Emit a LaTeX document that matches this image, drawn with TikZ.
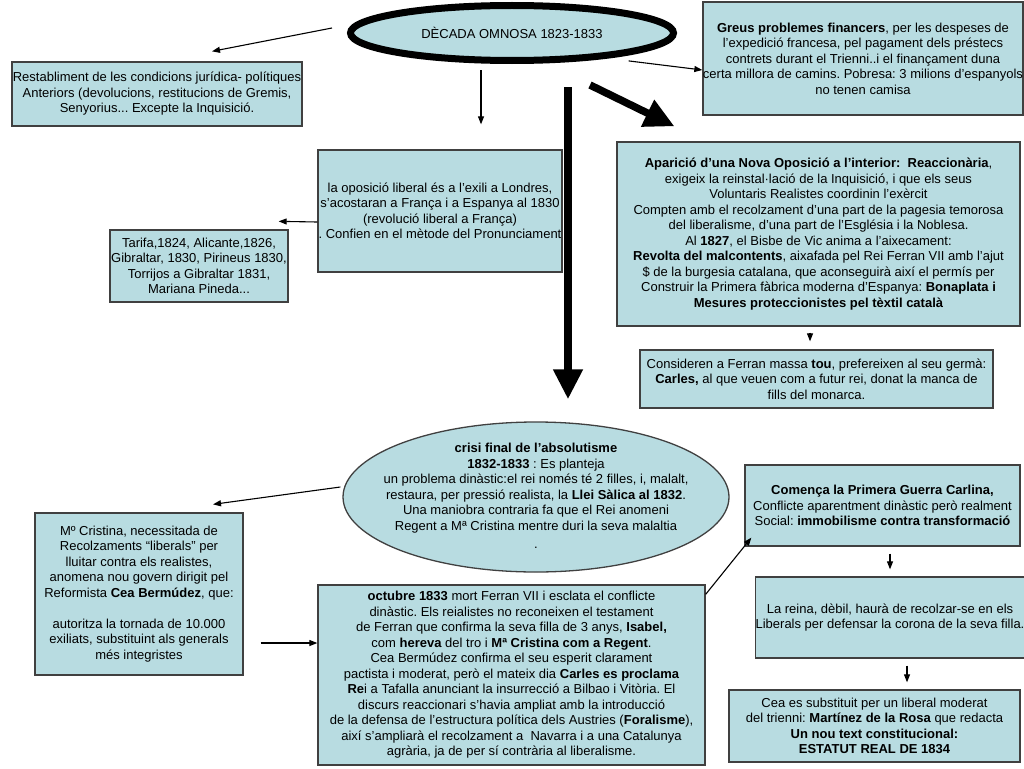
\documentclass[tikz,border=0pt]{standalone}
\usepackage{fontspec}
\setmainfont{Liberation Sans}
\usetikzlibrary{shapes.geometric,arrows.meta}
\definecolor{panelblue}{RGB}{184,220,225}
\frenchspacing

\begin{document}
\begin{tikzpicture}[x=1pt,y=-1pt,
    box/.style={draw=black!75, line width=1.3pt, fill=panelblue, align=center,
        inner sep=0pt, font=\fontsize{13}{15.5}\selectfont},
    oval/.style={ellipse, fill=panelblue, inner sep=0pt},
    txt/.style={align=center, inner sep=0pt, font=\fontsize{13}{15.5}\selectfont},
    link/.style={-{Triangle[length=8pt,width=6pt]}, line width=1.1pt},
    bigarrow/.style={-{Triangle[length=30pt,width=28pt]}, line width=7.5pt}]
    \useasboundingbox (0,0) rectangle (1024,768);

    % title
    \node[oval, draw=black, line width=7pt, minimum width=323pt, minimum height=55pt] (decada) at (512,33) {};
    \node[txt] (decadatext) at (decada.center) {DÈCADA OMNOSA 1823-1833};

    % upper row
    \node[box, minimum width=314pt, minimum height=113pt] (greus) at (863,58.5)
        {\textbf{Greus problemes financers}, per les despeses de\\
         l’expedició francesa, pel pagament dels préstecs\\
         contrets durant el Trienni..i el finançament duna\\
         certa millora de camins. Pobresa: 3 milions d’espanyols\\
         no tenen camisa};
    \node[box, minimum width=290pt, minimum height=64pt] (restab) at (157,94)
        {Restabliment de les condicions jurídica- polítiques\\
         Anteriors (devolucions, restitucions de Gremis,\\
         Senyorius... Excepte la Inquisició.};
    \node[box, minimum width=244pt, minimum height=122pt] (oposicio) at (440,211)
        {la oposició liberal és a l’exili a Londres,\\
         s’acostaran a França i a Espanya al 1830\\
         (revolució liberal a França)\\
         . Confien en el mètode del Pronunciament};
    \node[box, minimum width=178pt, minimum height=72pt] (tarifa) at (199,266)
        {Tarifa,1824, Alicante,1826,\\
         Gibraltar, 1830, Pirineus 1830,\\
         Torrijos a Gibraltar 1831,\\
         Mariana Pineda...};
    \node[box, minimum width=403pt, minimum height=184pt] (aparicio) at (818.5,234)
        {\textbf{Aparició d’una Nova Oposició a l'interior:\ \ Reaccionària},\\
         exigeix la reinstal·lació de la Inquisició, i que els seus\\
         Voluntaris Realistes coordinin l'exèrcit\\
         Compten amb el recolzament d’una part de la pagesia temorosa\\
         del liberalisme, d’una part de l’Església i la Noblesa.\\
         Al \textbf{1827}, el Bisbe de Vic anima a l’aixecament:\\
         \textbf{Revolta del malcontents}, aixafada pel Rei Ferran VII amb l’ajut\\
         \$ de la burgesia catalana, que aconseguirà així el permís per\\
         Construir la Primera fàbrica moderna d’Espanya: \textbf{Bonaplata i}\\
         \textbf{Mesures proteccionistes pel tèxtil català}};
    \node[box, minimum width=353pt, minimum height=58pt] (consideren) at (816.5,379)
        {Consideren a Ferran massa \textbf{tou}, prefereixen al seu germà:\\
         \textbf{Carles,} al que veuen com a futur rei, donat la manca de\\
         fills del monarca.};

    % crisis
    \node[oval, draw=black!75, line width=1.3pt, minimum width=386pt, minimum height=150pt] (crisi) at (536,497) {};
    \node[txt] (crisitext) at (536,496)
        {\textbf{crisi final de l’absolutisme}\\
         \textbf{1832-1833} : Es planteja\\
         un problema dinàstic:el rei només té 2 filles, i, malalt,\\
         restaura, per pressió realista, la \textbf{Llei Sàlica al 1832}.\\
         Una maniobra contraria fa que el Rei anomeni\\
         Regent a Mª Cristina mentre duri la seva malaltia\\[3pt]
         .};

    % lower row
    \node[box, minimum width=208pt, minimum height=162pt] (cristina) at (139,594)
        {Mº Cristina, necessitada de\\
         Recolzaments “liberals” per\\
         lluitar contra els realistes,\\
         anomena nou govern dirigit pel\\
         Reformista \textbf{Cea Bermúdez}, que:\\[15.5pt]
         autoritza la tornada de 10.000\\
         exiliats, substituint als generals\\
         més integristes};
    \node[box, minimum width=387pt, minimum height=180pt] (octubre) at (511.5,675)
        {\textbf{octubre 1833} mort Ferran VII i esclata el conflicte\\
         dinàstic. Els reialistes no reconeixen el testament\\
         de Ferran que confirma la seva filla de 3 anys, \textbf{Isabel,}\\
         com \textbf{hereva} del tro i \textbf{Mª Cristina com a Regent}.\\
         Cea Bermúdez confirma el seu esperit clarament\\
         pactista i moderat, però el mateix dia \textbf{Carles es proclama}\\
         \textbf{Re}i a Tafalla anunciant la insurrecció a Bilbao i Vitòria. El\\
         discurs reaccionari s'havia ampliat amb la introducció\\
         de la defensa de l’estructura política dels Austries (\textbf{Foralisme}),\\
         així s’ampliarà el recolzament a\ \ Navarra i a una Catalunya\\
         agrària, ja de per sí contrària al liberalisme.};
    \node[box, minimum width=275pt, minimum height=81pt] (comenca) at (882.5,505.5)
        {\textbf{Comença la Primera Guerra Carlina,}\\
         Conflicte aparentment dinàstic però realment\\
         Social: \textbf{immobilisme contra transformació}};
    \node[box, minimum width=264pt, minimum height=81pt] (reina) at (890,617.5)
        {La reina, dèbil, haurà de recolzar-se en els\\
         Liberals per defensar la corona de la seva filla.};
    \node[box, minimum width=291pt, minimum height=72pt] (cea) at (874.5,726)
        {Cea es substituit per un liberal moderat\\
         del trienni: \textbf{Martínez de la Rosa} que redacta\\
         \textbf{Un nou text constitucional:}\\
         \textbf{ESTATUT REAL DE 1834}};

    % thick arrows
    \coordinate (trunk) at (568,87);
    \coordinate (branch) at (590,85);
    \draw[bigarrow] (trunk) -- ([xshift=32pt,yshift=22pt]crisi.north);
    \draw[bigarrow] (branch) -- ([xshift=-144pt,yshift=15pt]aparicio.north);

    % thin arrows
    \draw[link] ([xshift=-15pt,yshift=5pt]decada.west) -- ([xshift=55pt,yshift=10pt]restab.north);
    \draw[link] ([xshift=-31pt,yshift=-6pt]decada.south) -- ([xshift=41pt,yshift=25pt]oposicio.north);
    \draw[link] ([yshift=-6pt]decada.south east) -- ([yshift=-11.5pt]greus.west);
    \draw[link] ([yshift=-11pt]oposicio.west) -- ([xshift=-10pt,yshift=8pt]tarifa.north east);
    \draw[link] ([xshift=-8.5pt,yshift=-6pt]aparicio.south) -- ([xshift=-6.5pt,yshift=8pt]consideren.north);
    \draw[link] ([xshift=-2pt,yshift=10pt]crisi.west) -- ([xshift=74pt,yshift=8pt]cristina.north);
    \draw[link] ([xshift=17pt,yshift=-49pt]cristina.east) -- ([yshift=32pt]octubre.west);
    \draw[link] ([yshift=-10pt]octubre.north east) -- ([xshift=7pt,yshift=9pt]comenca.south west);
    \draw[link] ([xshift=7.5pt,yshift=-7pt]comenca.south) -- ([yshift=7pt]reina.north);
    \draw[link] ([xshift=17pt,yshift=-7pt]reina.south) -- ([xshift=32.5pt,yshift=7pt]cea.north);
\end{tikzpicture}
\end{document}
